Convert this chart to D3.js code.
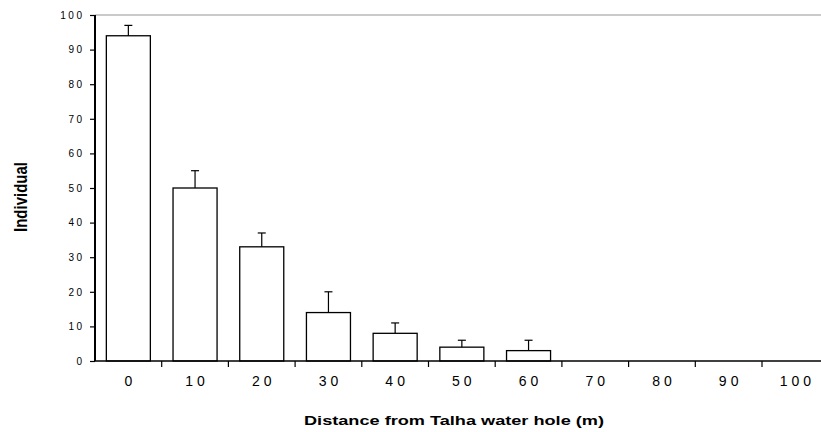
<!DOCTYPE html>
<html>
<head>
<meta charset="utf-8">
<script src="https://cdn.jsdelivr.net/npm/d3@7"></script>
<style>
  body { margin: 0; background: #fff; }
  text { font-family: "Liberation Sans", Arial, sans-serif; fill: #000; }
</style>
</head>
<body>
<div id="chart"></div>
<script>
// --- Data ---
const distances = ["0", "10", "20", "30", "40", "50", "60", "70", "80", "90", "100"];
const individuals = [94, 50, 33, 14, 8, 4, 3, 0, 0, 0, 0];
const errorTops = [97, 55, 37, 20, 11, 6, 6, 0, 0, 0, 0];
const yTicks = [0, 10, 20, 30, 40, 50, 60, 70, 80, 90, 100];

// --- Setup ---
const W = 821, H = 432;
const x0 = 95, yTop = 15, yBottom = 361;
const bandW = 66.7;

const svg = d3.select("#chart")
    .append("svg")
        .attr("width", W)
        .attr("height", H);

const xScale = d3.scaleBand()
    .domain(distances)
    .range([x0, x0 + bandW * distances.length])
    .paddingInner(0.34)
    .paddingOuter(0.17);

const yScale = d3.scaleLinear()
    .domain([0, 100])
    .range([yBottom, yTop]);

// grey top border
svg.append("line")
    .attr("x1", x0).attr("x2", W)
    .attr("y1", yScale(100)).attr("y2", yScale(100))
    .attr("stroke", "#b8b8b8")
    .attr("stroke-width", 1.5);

// bars
svg.append("g")
    .selectAll("rect")
    .data(distances)
    .enter()
    .append("rect")
        .attr("x", d => xScale(d))
        .attr("y", (d, i) => yScale(individuals[i]))
        .attr("width", xScale.bandwidth())
        .attr("height", (d, i) => yBottom - yScale(individuals[i]))
        .attr("fill", "#fff")
        .attr("stroke", "#000")
        .attr("stroke-width", 1.3)
        .style("display", (d, i) => individuals[i] > 0 ? null : "none");

// error bars (upper only)
const err = svg.append("g")
    .selectAll("g")
    .data(distances.filter((d, i) => errorTops[i] > individuals[i]))
    .enter()
    .append("g");

err.append("line")
    .attr("x1", d => xScale(d) + xScale.bandwidth() / 2)
    .attr("x2", d => xScale(d) + xScale.bandwidth() / 2)
    .attr("y1", d => yScale(individuals[distances.indexOf(d)]))
    .attr("y2", d => yScale(errorTops[distances.indexOf(d)]))
    .attr("stroke", "#000")
    .attr("stroke-width", 1.2);

err.append("line")
    .attr("x1", d => xScale(d) + xScale.bandwidth() / 2 - 4)
    .attr("x2", d => xScale(d) + xScale.bandwidth() / 2 + 4)
    .attr("y1", d => yScale(errorTops[distances.indexOf(d)]))
    .attr("y2", d => yScale(errorTops[distances.indexOf(d)]))
    .attr("stroke", "#000")
    .attr("stroke-width", 1.2);

// y axis
const yAxis = svg.append("g")
    .attr("transform", `translate(${x0}, 0)`)
    .call(d3.axisLeft(yScale).tickValues(yTicks).tickSize(5).tickPadding(5.5));
yAxis.select(".domain").attr("stroke-width", 2).attr("d", `M0,${yTop}V${yBottom}`);
yAxis.selectAll(".tick line").attr("stroke-width", 1.2);
yAxis.selectAll("text")
    .style("font-size", "10px")
    .style("letter-spacing", "2.5px")
    .attr("font-family", null);

// x axis
const xAxis = svg.append("g")
    .attr("transform", `translate(0, ${yBottom})`)
    .call(d3.axisBottom(xScale).tickSize(0).tickPadding(15));
xAxis.select(".domain").attr("d", `M${x0},0H${W}`).attr("stroke-width", 1.5);
xAxis.selectAll("text")
    .style("font-size", "14px")
    .style("letter-spacing", "4px")
    .attr("dx", 2)
    .attr("font-family", null);

// x tick marks at band boundaries
svg.append("g")
    .selectAll("line")
    .data(distances.slice(1))
    .enter()
    .append("line")
        .attr("x1", d => xScale(d) - xScale.step() * xScale.paddingInner() / 2)
        .attr("x2", d => xScale(d) - xScale.step() * xScale.paddingInner() / 2)
        .attr("y1", yBottom)
        .attr("y2", yBottom + 6)
        .attr("stroke", "#000")
        .attr("stroke-width", 1.2);

// axis titles
svg.append("text")
    .attr("text-anchor", "middle")
    .attr("x", 454)
    .attr("y", 425)
    .attr("textLength", 300)
    .attr("lengthAdjust", "spacingAndGlyphs")
    .style("font-size", "12.5px")
    .style("font-weight", "bold")
    .text("Distance from Talha water hole (m)");

svg.append("text")
    .attr("text-anchor", "middle")
    .attr("transform", "rotate(-90)")
    .attr("x", -197)
    .attr("y", 27)
    .attr("textLength", 70)
    .attr("lengthAdjust", "spacingAndGlyphs")
    .style("font-size", "18px")
    .style("font-weight", "bold")
    .text("Individual");
</script>
</body>
</html>
